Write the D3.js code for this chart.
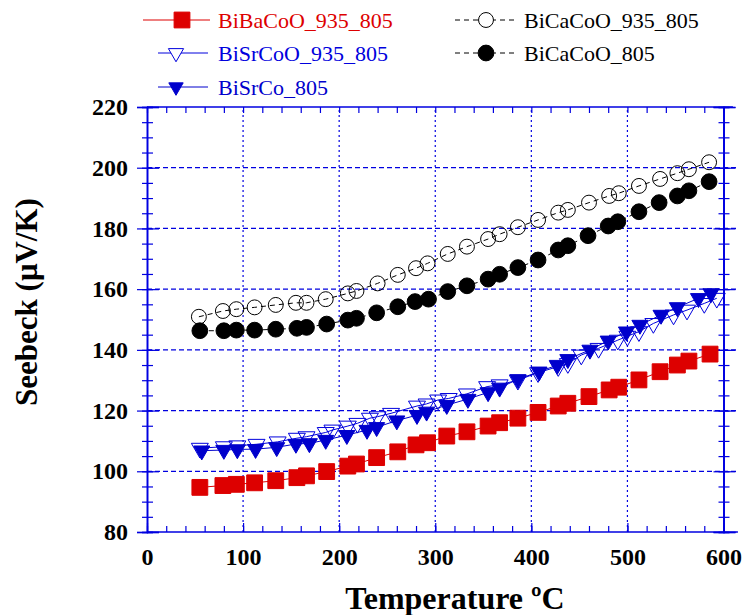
<!DOCTYPE html>
<html>
<head>
<meta charset="utf-8">
<script src="https://cdn.jsdelivr.net/npm/d3@7"></script>
<style>
  html, body { margin: 0; padding: 0; background: #fff; }
  svg { display: block; }
  text { font-family: "Liberation Serif", "Times New Roman", serif; }
</style>
</head>
<body>
<svg id="chart" width="745" height="615"></svg>
<script>
// Seebeck coefficient vs temperature for Bi-based cobaltites

// BiBaCoO_935_805
const baTemp = [55, 79, 93, 112, 134, 156, 166, 187, 209, 218, 239, 261, 280, 292, 312, 333, 355, 367, 386, 407, 428, 438, 460, 481, 491, 512, 534, 552, 564, 586];
const baSeebeck = [94.7, 95.3, 95.7, 96.2, 96.9, 97.9, 98.5, 99.9, 101.7, 102.4, 104.5, 106.4, 108.7, 109.4, 111.6, 113.0, 114.9, 116.0, 117.5, 119.4, 121.5, 122.4, 124.6, 126.8, 127.7, 130.1, 132.8, 135.0, 136.3, 138.6];

// BiSrCoO_935_805
const srTemp = [55, 80, 94, 114, 136, 156, 166, 186, 193, 209, 219, 232, 240, 254, 281, 291, 303, 314, 333, 354, 367, 386, 407, 428, 438, 452, 470, 490, 500, 512, 527, 548, 562, 580, 593];
const srSeebeck = [107.6, 108.1, 108.4, 108.9, 109.7, 110.9, 111.4, 112.8, 113.6, 114.9, 115.8, 117.5, 118.0, 119.1, 121.5, 122.2, 123.5, 124.0, 125.5, 127.9, 128.5, 130.0, 132.5, 134.5, 135.5, 138.3, 140.5, 143.2, 144.5, 146.0, 148.7, 151.5, 153.1, 155.3, 157.0];

// BiSrCo_805
const sr805Temp = [57, 80, 94, 113, 135, 155, 169, 186, 208, 229, 239, 260, 281, 291, 312, 334, 355, 367, 386, 408, 427, 438, 461, 480, 499, 513, 535, 552, 574, 587];
const sr805Seebeck = [106.8, 107.0, 107.2, 107.3, 107.9, 109.0, 109.2, 110.3, 111.9, 113.6, 114.5, 116.7, 118.5, 119.6, 121.8, 123.8, 126.0, 127.5, 130.3, 132.8, 135.0, 136.9, 140.0, 143.0, 146.0, 148.2, 151.5, 154.0, 157.0, 158.6];

// BiCaCoO_935_805
const caTemp = [54, 79, 93, 112, 134, 155, 166, 186, 209, 218, 240, 261, 280, 292, 313, 333, 355, 367, 386, 407, 428, 438, 460, 481, 491, 512, 534, 552, 564, 585];
const caSeebeck = [150.9, 152.8, 153.4, 154.0, 154.8, 155.5, 155.5, 156.7, 158.6, 159.4, 161.9, 164.7, 166.9, 168.5, 171.6, 174.0, 176.5, 178.1, 180.4, 182.8, 185.2, 186.1, 188.5, 190.7, 191.6, 194.0, 196.3, 198.2, 199.5, 201.8];

// BiCaCoO_805
const ca805Temp = [55, 80, 93, 112, 134, 156, 166, 187, 209, 218, 239, 261, 279, 293, 313, 333, 355, 367, 386, 407, 428, 438, 459, 480, 490, 512, 533, 552, 564, 585];
const ca805Seebeck = [146.3, 146.3, 146.5, 146.5, 146.8, 147.1, 147.4, 148.5, 149.8, 150.4, 152.2, 154.2, 155.9, 156.7, 159.2, 161.1, 163.3, 164.9, 167.1, 169.6, 172.9, 174.3, 177.6, 180.8, 182.2, 185.5, 188.5, 190.7, 192.4, 195.4];

const seriesNames = ["BiBaCoO_935_805", "BiSrCoO_935_805", "BiSrCo_805", "BiCaCoO_935_805", "BiCaCoO_805"];

const xTicks = [0, 100, 200, 300, 400, 500, 600];
const yTicks = [80, 100, 120, 140, 160, 180, 200, 220];
const xGrid = [100, 200, 300, 400, 500];
const yGrid = [100, 120, 140, 160, 180, 200];

const BLUE = "#0000e0";
const SERIF = "Liberation Serif";

const svg = d3.select("#chart");

const x = d3.scaleLinear().domain([0, 600]).range([147, 723.5]);
const y = d3.scaleLinear().domain([80, 220]).range([532, 107]);
const xEnd = 615; // frame runs slightly past the last tick

const yMinor = d3.range(80, 220.01, 5);
const xMinor = d3.range(0, 600.01, 20);

// grid
const grid = svg.append("g");
grid.selectAll("line.h").data(yGrid).join("line")
  .attr("x1", x(0)).attr("x2", x(xEnd))
  .attr("y1", d => y(d)).attr("y2", d => y(d))
  .attr("stroke", BLUE).attr("stroke-width", 1.2).attr("stroke-dasharray", "5,3");
grid.selectAll("line.v").data(xGrid).join("line")
  .attr("x1", d => x(d)).attr("x2", d => x(d))
  .attr("y1", y(80)).attr("y2", y(220))
  .attr("stroke", BLUE).attr("stroke-width", 1.2).attr("stroke-dasharray", "2,3");

// frame lines
svg.append("line").attr("x1", x(0)).attr("x2", x(xEnd)).attr("y1", y(80)).attr("y2", y(80))
  .attr("stroke", BLUE).attr("stroke-width", 1.3);
svg.append("line").attr("x1", x(0)).attr("x2", x(xEnd) - 5).attr("y1", y(220)).attr("y2", y(220))
  .attr("stroke", BLUE).attr("stroke-width", 1.3);

function styleAxis(g) {
  g.select(".domain").attr("stroke", BLUE).attr("stroke-width", 1.3);
  g.selectAll(".tick line").attr("stroke", BLUE).attr("stroke-width", 1.2);
}

// left & right vertical axes with ticks crossing the axis line
[0, 600].forEach(pos => {
  svg.append("g").attr("transform", `translate(${x(pos)},0)`)
    .call(d3.axisLeft(y).tickValues(yMinor).tickSize(5).tickFormat(""))
    .call(styleAxis);
  svg.append("g").attr("transform", `translate(${x(pos)},0)`)
    .call(d3.axisRight(y).tickValues(yMinor).tickSize(6).tickFormat(""))
    .call(styleAxis);
  svg.append("g").attr("transform", `translate(${x(pos)},0)`)
    .call(d3.axisLeft(y).tickValues(yTicks).tickSize(10).tickFormat(""))
    .call(styleAxis);
  svg.append("g").attr("transform", `translate(${x(pos)},0)`)
    .call(d3.axisRight(y).tickValues(yTicks).tickSize(12).tickFormat(""))
    .call(styleAxis);
});

// bottom and top ticks pointing inward
svg.append("g").attr("transform", `translate(0,${y(80)})`)
  .call(d3.axisTop(x).tickValues(xMinor).tickSize(6).tickFormat(""))
  .call(g => g.select(".domain").remove())
  .call(styleAxis);
svg.append("g").attr("transform", `translate(0,${y(80)})`)
  .call(d3.axisTop(x).tickValues(xTicks).tickSize(9).tickFormat(""))
  .call(g => g.select(".domain").remove())
  .call(styleAxis);
svg.append("g").attr("transform", `translate(0,${y(220)})`)
  .call(d3.axisBottom(x).tickValues(xMinor).tickSize(6).tickFormat(""))
  .call(g => g.select(".domain").remove())
  .call(styleAxis);

// tick labels
const yLab = svg.append("g").attr("transform", `translate(${x(0)},0)`)
  .call(d3.axisLeft(y).tickValues(yTicks).tickSize(0).tickPadding(19));
yLab.select(".domain").remove();
yLab.selectAll("text").attr("font-family", SERIF).attr("font-weight", "bold")
  .attr("font-size", 24).attr("fill", "#000");

const xLab = svg.append("g").attr("transform", `translate(0,${y(80)})`)
  .call(d3.axisBottom(x).tickValues(xTicks).tickSize(0).tickPadding(16));
xLab.select(".domain").remove();
xLab.selectAll("text").attr("font-family", SERIF).attr("font-weight", "bold")
  .attr("font-size", 24).attr("fill", "#000");

// axis titles
svg.append("text").attr("x", 455).attr("y", 609).attr("text-anchor", "middle")
  .attr("font-family", SERIF).attr("font-weight", "bold").attr("font-size", 32)
  .text("Temperature ºC");
svg.append("text").attr("transform", "translate(37,302) rotate(-90)").attr("text-anchor", "middle")
  .attr("font-family", SERIF).attr("font-weight", "bold").attr("font-size", 31)
  .text("Seebeck (μV/K)");

// series
const series = [
  { name: seriesNames[0], t: baTemp, s: baSeebeck, color: "#dd0000", type: d3.symbolSquare, size: 250, fill: true, dash: null, rot: 0 },
  { name: seriesNames[1], t: srTemp, s: srSeebeck, color: "#0000dd", type: d3.symbolTriangle, size: 125, fill: false, dash: null, rot: 180 },
  { name: seriesNames[2], t: sr805Temp, s: sr805Seebeck, color: "#0000cc", type: d3.symbolTriangle, size: 112, fill: true, dash: null, rot: 180 },
  { name: seriesNames[3], t: caTemp, s: caSeebeck, color: "#000", type: d3.symbolCircle, size: 175, fill: false, dash: "5,4", rot: 0 },
  { name: seriesNames[4], t: ca805Temp, s: ca805Seebeck, color: "#000", type: d3.symbolCircle, size: 195, fill: true, dash: "5,4", rot: 0 }
];

const line = d3.line().x(d => x(d[0])).y(d => y(d[1]));

series.forEach(sr => {
  const pts = sr.t.map((t, i) => [t, sr.s[i]]);
  const g = svg.append("g");
  g.append("path").datum(pts).attr("d", line)
    .attr("fill", "none").attr("stroke", sr.color).attr("stroke-width", 1)
    .attr("stroke-dasharray", sr.dash);
  g.selectAll("path.m").data(pts).join("path")
    .attr("transform", d => `translate(${x(d[0])},${y(d[1])}) rotate(${sr.rot})`)
    .attr("d", d3.symbol().type(sr.type).size(sr.size))
    .attr("fill", sr.fill ? sr.color : "none")
    .attr("stroke", sr.color).attr("stroke-width", 1);
});

// legend
const legendPos = [
  { x1: 143, x2: 210, mx: 182, ty: 20, tx: 218 },
  { x1: 158, x2: 208, mx: 176, ty: 53, tx: 218 },
  { x1: 158, x2: 208, mx: 176, ty: 87, tx: 218 },
  { x1: 455, x2: 518, mx: 486, ty: 20, tx: 524 },
  { x1: 455, x2: 518, mx: 486, ty: 53, tx: 524 }
];
series.forEach((sr, i) => {
  const p = legendPos[i];
  const g = svg.append("g");
  g.append("line").attr("x1", p.x1).attr("x2", p.x2).attr("y1", p.ty).attr("y2", p.ty)
    .attr("stroke", sr.color).attr("stroke-width", 1).attr("stroke-dasharray", sr.dash);
  g.append("path")
    .attr("transform", `translate(${p.mx},${p.ty}) rotate(${sr.rot})`)
    .attr("d", d3.symbol().type(sr.type).size(sr.rot ? sr.size * 0.8 : sr.size))
    .attr("fill", sr.fill ? sr.color : "#fff")
    .attr("stroke", sr.color).attr("stroke-width", 1);
  g.append("text").attr("x", p.tx).attr("y", p.ty).attr("dy", "0.35em")
    .attr("font-family", SERIF).attr("font-size", 22).attr("fill", sr.color)
    .text(sr.name);
});
</script>
</body>
</html>
